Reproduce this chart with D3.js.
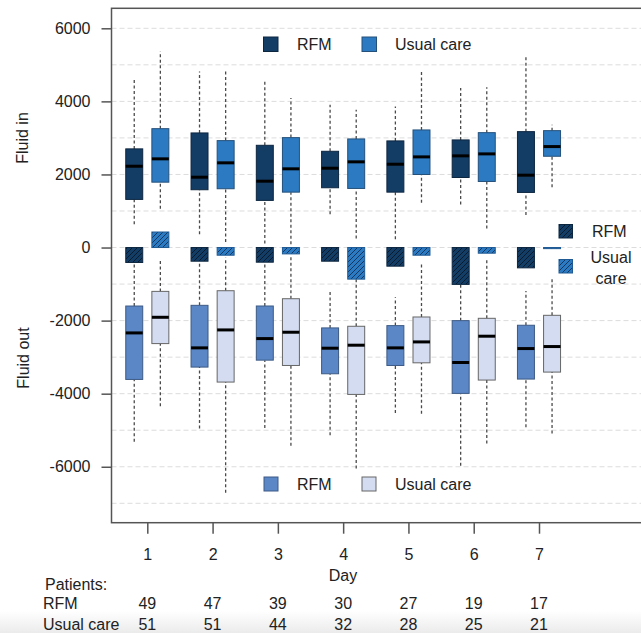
<!DOCTYPE html>
<html>
<head>
<meta charset="utf-8">
<script src="https://cdn.jsdelivr.net/npm/d3@7"></script>
<style>
    body { margin: 0; background: #fff; }
    text { font-family: "Liberation Sans", Arial, sans-serif; fill: #222; }
</style>
</head>
<body>
<div id="chart"></div>
<script>

//Data: [lower whisker, q1, median, q3, upper whisker] per day
var days = [1, 2, 3, 4, 5, 6, 7];

var rfmIn = [
    [635, 1317, 2225, 2700, 4609],
    [363, 1582, 1925, 3136, 4817],
    [109, 1290, 1816, 2798, 4543],
    [908, 1636, 2171, 2634, 3908],
    [226, 1516, 2280, 2918, 3862],
    [1181, 1917, 2509, 2945, 4363],
    [889, 1508, 1980, 3172, 5253]
];
var ucIn = [
    [1063, 1789, 2427, 3253, 5362],
    [150, 1609, 2318, 2926, 4862],
    [90, 1516, 2154, 3008, 4090],
    [250, 1617, 2345, 2972, 3771],
    [1227, 1999, 2481, 3218, 4835],
    [518, 1808, 2563, 3144, 4390],
    [1653, 2498, 2763, 3199, 3363]
];
var rfmOut = [
    [-5318, -3610, -2337, -1601, -450],
    [-4955, -3272, -2746, -1582, -400],
    [-4937, -3082, -2492, -1600, -410],
    [-5137, -3455, -2755, -2200, -1164],
    [-4530, -3228, -2746, -2137, -1364],
    [-5972, -3992, -3146, -2001, -1009],
    [-4919, -3600, -2765, -2127, -1192]
];
var ucOut = [
    [-4347, -2629, -1909, -1200, -300],
    [-6709, -3682, -2255, -1182, -270],
    [-5427, -3228, -2318, -1401, -210],
    [-6046, -4020, -2673, -2155, -865],
    [-4546, -3155, -2583, -1901, -410],
    [-5364, -3627, -2427, -1937, -320],
    [-5091, -3409, -2710, -1855, -818]
];

//Fluid balance (hatched bars from zero)
var rfmBalance = [-409, -374, -401, -374, -510, -1009, -556];
var ucBalance = [425, -210, -174, -865, -210, -155, -30];

//Patients per day
var rfmPatients = [49, 47, 39, 30, 27, 19, 17];
var ucPatients = [51, 51, 44, 32, 28, 25, 21];

var yTicks = [-6000, -4000, -2000, 0, 2000, 4000, 6000];
var gridValues = [-7000, -6000, -5000, -4000, -3000, -2000, -1000, 0, 1000, 2000, 3000, 4000, 5000, 6000];

var colRfmIn = "#143d66", colUcIn = "#2c7bc2", colRfmOut = "#5b87c7", colUcOut = "#d3dcf1";
var fontSize = "16px";

var svg = d3.select("#chart").append("svg")
    .attr("width", 641)
    .attr("height", 633);

var defs = svg.append("defs");

//Hatch patterns for the balance bars
function hatch(id, bg, line) {
    var p = defs.append("pattern")
        .attr("id", id)
        .attr("patternUnits", "userSpaceOnUse")
        .attr("width", 5)
        .attr("height", 5);
    p.append("rect").attr("width", 5).attr("height", 5).attr("fill", bg);
    p.append("path")
        .attr("d", "M-1,1 l2,-2 M0,5 l5,-5 M4,6 l2,-2")
        .attr("stroke", line)
        .attr("stroke-width", 1);
}
hatch("hatchRfm", colRfmIn, "#061a30");
hatch("hatchUc", colUcIn, "#0f3763");

//Grey band at the bottom of the screenshot
var grad = defs.append("linearGradient")
    .attr("id", "fade")
    .attr("x1", 0).attr("y1", 0).attr("x2", 0).attr("y2", 1);
grad.append("stop").attr("offset", "0%").attr("stop-color", "#ffffff");
grad.append("stop").attr("offset", "100%").attr("stop-color", "#ebebeb");
svg.append("rect")
    .attr("x", 0).attr("y", 611)
    .attr("width", 641).attr("height", 22)
    .attr("fill", "url(#fade)");

//Scales
var x = d3.scaleLinear()
    .domain([1, 7])
    .range([147.3, 539]);

var y = d3.scaleLinear()
    .domain([-7000, 6000])
    .range([503.3, 28.3]);

var plotLeft = 111.5, plotTop = 8.3, plotBottom = 522.7, plotRight = 720;
var off = 0.2, half = 0.13;

//Gridlines
svg.append("g")
    .selectAll("line")
    .data(gridValues)
    .enter().append("line")
    .attr("x1", plotLeft).attr("x2", 641)
    .attr("y1", function (d) { return y(d); })
    .attr("y2", function (d) { return y(d); })
    .attr("stroke", "#dcdcdc")
    .attr("stroke-width", 1)
    .attr("stroke-dasharray", "5,3");

//Draws one boxplot series
function drawBoxes(data, shift, fill, stroke) {
    var g = svg.append("g");
    data.forEach(function (s, i) {
        var cx = x(days[i] + shift);
        var w = x(days[i] + half) - x(days[i] - half);

        //whiskers
        g.append("line")
            .attr("x1", cx).attr("x2", cx)
            .attr("y1", y(s[0])).attr("y2", y(s[1]))
            .attr("stroke", "#4a4a4a").attr("stroke-width", 1.3)
            .attr("stroke-dasharray", "3,2.5");
        g.append("line")
            .attr("x1", cx).attr("x2", cx)
            .attr("y1", y(s[3])).attr("y2", y(s[4]))
            .attr("stroke", "#4a4a4a").attr("stroke-width", 1.3)
            .attr("stroke-dasharray", "3,2.5");

        //box
        g.append("rect")
            .attr("x", cx - w / 2)
            .attr("y", y(s[3]))
            .attr("width", w)
            .attr("height", y(s[1]) - y(s[3]))
            .attr("fill", fill)
            .attr("stroke", stroke)
            .attr("stroke-width", 1);

        //median
        g.append("line")
            .attr("x1", cx - w / 2).attr("x2", cx + w / 2)
            .attr("y1", y(s[2])).attr("y2", y(s[2]))
            .attr("stroke", "#000").attr("stroke-width", 3);
    });
}

drawBoxes(rfmIn, -off, colRfmIn, "#0d2640");
drawBoxes(ucIn, off, colUcIn, "#24507a");
drawBoxes(rfmOut, -off, colRfmOut, "#3c5a85");
drawBoxes(ucOut, off, colUcOut, "#666");

//Balance bars
function drawBalance(data, shift, fill, stroke) {
    svg.append("g")
        .selectAll("rect")
        .data(data)
        .enter().append("rect")
        .attr("x", function (d, i) { return x(days[i] + shift - half); })
        .attr("width", function (d, i) { return x(days[i] + half) - x(days[i] - half); })
        .attr("y", function (d) { return y(Math.max(0, d)); })
        .attr("height", function (d) { return Math.abs(y(d) - y(0)); })
        .attr("fill", fill)
        .attr("stroke", stroke)
        .attr("stroke-width", 1);
}
drawBalance(rfmBalance, -off, "url(#hatchRfm)", "#0d2640");
drawBalance(ucBalance, off, "url(#hatchUc)", "#1f5a94");

//Frame
svg.append("rect")
    .attr("x", plotLeft).attr("y", plotTop)
    .attr("width", plotRight - plotLeft)
    .attr("height", plotBottom - plotTop)
    .attr("fill", "none")
    .attr("stroke", "#555")
    .attr("stroke-width", 1.5);

//Y axis (plain hyphen minus, as in the original)
var yAxis = svg.append("g")
    .attr("transform", "translate(" + plotLeft + ",0)")
    .call(d3.axisLeft(y).tickValues(yTicks).tickSize(10).tickPadding(11).tickFormat(function (d) { return String(d); }));
yAxis.select(".domain").remove();
yAxis.selectAll("line").attr("stroke", "#555").attr("stroke-width", 1.5);
yAxis.selectAll("text")
    .attr("font-size", fontSize)
    .attr("font-family", "Liberation Sans, Arial, sans-serif")
    .attr("fill", "#222");

//X axis
var xAxis = svg.append("g")
    .attr("transform", "translate(0," + plotBottom + ")")
    .call(d3.axisBottom(x).tickValues(days).tickSize(11).tickPadding(15).tickFormat(function (d) { return String(d); }));
xAxis.select(".domain").remove();
xAxis.selectAll("line").attr("stroke", "#555").attr("stroke-width", 1.5);
xAxis.selectAll("text")
    .attr("font-size", fontSize)
    .attr("font-family", "Liberation Sans, Arial, sans-serif")
    .attr("fill", "#222");

//Axis titles
svg.append("text")
    .attr("transform", "translate(22,138) rotate(-90)")
    .attr("text-anchor", "middle")
    .attr("dominant-baseline", "central")
    .attr("font-size", fontSize)
    .text("Fluid in");

svg.append("text")
    .attr("transform", "translate(23,358) rotate(-90)")
    .attr("text-anchor", "middle")
    .attr("dominant-baseline", "central")
    .attr("font-size", fontSize)
    .text("Fluid out");

svg.append("text")
    .attr("x", 343).attr("y", 575)
    .attr("text-anchor", "middle")
    .attr("dominant-baseline", "central")
    .attr("font-size", fontSize)
    .text("Day");

//Legends
function legendItem(sx, sy, size, fill, stroke, label, tx) {
    svg.append("rect")
        .attr("x", sx).attr("y", sy)
        .attr("width", size).attr("height", size)
        .attr("fill", fill).attr("stroke", stroke).attr("stroke-width", 1);
    svg.append("text")
        .attr("x", tx).attr("y", sy + size / 2)
        .attr("dominant-baseline", "central")
        .attr("font-size", fontSize)
        .text(label);
}
legendItem(263.5, 37, 14.5, colRfmIn, "#0d2640", "RFM", 297);
legendItem(362, 37, 14.5, colUcIn, "#24507a", "Usual care", 395);

legendItem(264, 477, 14, colRfmOut, "#3c5a85", "RFM", 297);
legendItem(362, 477, 14, colUcOut, "#666", "Usual care", 395);

legendItem(559, 224.5, 13.5, "url(#hatchRfm)", "#0d2640", "RFM", 592);
svg.append("rect")
    .attr("x", 559).attr("y", 259.5)
    .attr("width", 13.5).attr("height", 13.5)
    .attr("fill", "url(#hatchUc)").attr("stroke", "#1f5a94").attr("stroke-width", 1);
svg.append("text")
    .attr("x", 611).attr("y", 257.5)
    .attr("text-anchor", "middle")
    .attr("dominant-baseline", "central")
    .attr("font-size", fontSize)
    .text("Usual");
svg.append("text")
    .attr("x", 611).attr("y", 278)
    .attr("text-anchor", "middle")
    .attr("dominant-baseline", "central")
    .attr("font-size", fontSize)
    .text("care");

//Patients table
svg.append("text")
    .attr("x", 45).attr("y", 584)
    .attr("dominant-baseline", "central")
    .attr("font-size", fontSize)
    .text("Patients:");

var rows = [{label: "RFM", values: rfmPatients, y: 603.5}, {label: "Usual care", values: ucPatients, y: 624}];
rows.forEach(function (r) {
    svg.append("text")
        .attr("x", 43).attr("y", r.y)
        .attr("dominant-baseline", "central")
        .attr("font-size", fontSize)
        .text(r.label);
    svg.append("g")
        .selectAll("text")
        .data(r.values)
        .enter().append("text")
        .attr("x", function (d, i) { return x(days[i]); })
        .attr("y", r.y)
        .attr("text-anchor", "middle")
        .attr("dominant-baseline", "central")
        .attr("font-size", fontSize)
        .text(function (d) { return d; });
});

</script>
</body>
</html>
